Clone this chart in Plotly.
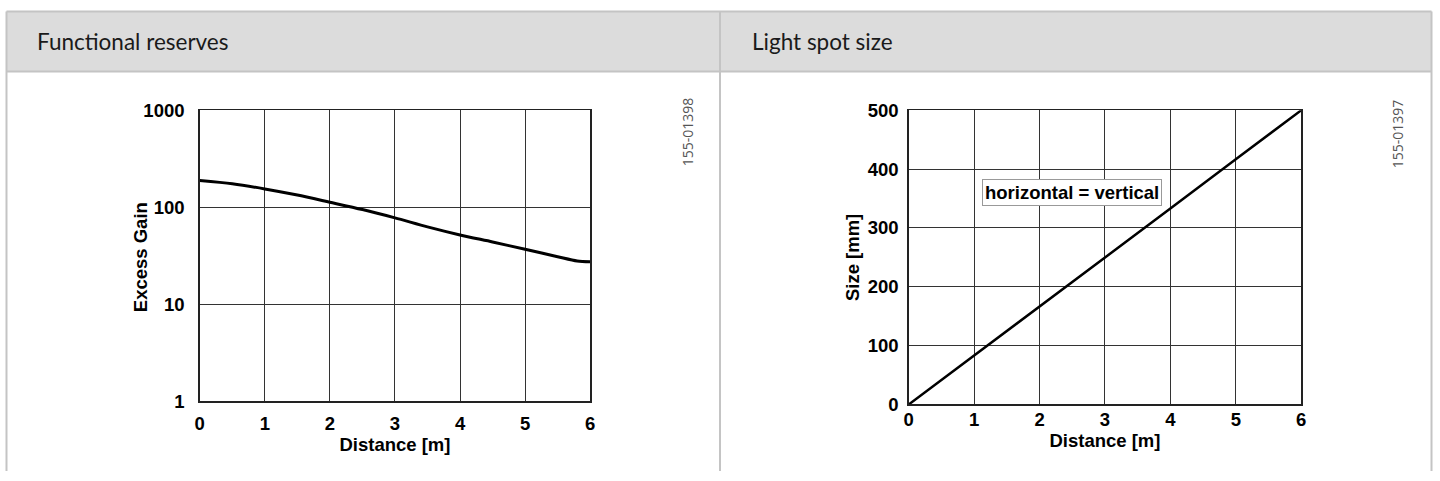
import plotly.graph_objects as go

# ---------------- data ----------------
gain_distance = [0, 0.5, 1, 1.5, 2, 2.5, 3, 3.5, 4, 4.5, 5, 5.5, 5.8, 6]
excess_gain = [189, 175, 155, 134, 113, 95, 78, 63, 52, 44, 37, 31, 28, 27.5]

spot_distance = [0, 1, 2, 3, 4, 5, 6]
spot_size = [0, 83, 167, 250, 333, 417, 500]

gain_ticks = [1, 10, 100, 1000]
gain_tick_text = ["1", "10", "100", "1000"]
x_ticks = [0, 1, 2, 3, 4, 5, 6]
size_ticks = [0, 100, 200, 300, 400, 500]

panel_titles = ["Functional reserves", "Light spot size"]
doc_ids = ["155-01398", "155-01397"]
x_title = "Distance [m]"
gain_title = "Excess Gain"
size_title = "Size [mm]"
note_text = "horizontal = vertical"

# ---------------- layout helpers ----------------
W, H = 1440, 481
# mapping between page pixels and the photographed picture
X0, SX = 4.0, 1432.0 / 1440.0
Y0, SY = 9.0, 463.0 / 481.0


def fx(p):
    return ((p - X0) / SX) / W


def fy(p):
    return 1 - ((p - Y0) / SY) / H


ARIAL = "Arial, Liberation Sans, sans-serif"
tick_font = dict(family=ARIAL, size=18.5, color="#000", weight="bold")
title_font = dict(family=ARIAL, size=18.5, color="#000", weight="bold")

fig = go.Figure()

fig.add_trace(go.Scatter(
    x=gain_distance, y=excess_gain, mode="lines",
    line=dict(color="#000", width=3, shape="spline", smoothing=0.8),
    xaxis="x", yaxis="y", showlegend=False, hoverinfo="skip",
))
fig.add_trace(go.Scatter(
    x=spot_distance, y=spot_size, mode="lines",
    line=dict(color="#000", width=2.5),
    xaxis="x2", yaxis="y2", showlegend=False, hoverinfo="skip",
))

axis_common = dict(
    showgrid=True, gridcolor="#333", gridwidth=1,
    showline=True, linecolor="#222", linewidth=1.5, mirror=True,
    zeroline=False, ticks="", tickfont=tick_font, fixedrange=True,
)

fig.update_layout(
    width=W, height=H,
    margin=dict(l=0, r=0, t=0, b=0),
    paper_bgcolor="#fff", plot_bgcolor="#fff",
    showlegend=False,
    xaxis=dict(axis_common, domain=[fx(199), fx(590)], range=[0, 6],
               tickvals=x_ticks, ticklabelstandoff=5,
               title=dict(text=x_title, font=title_font, standoff=0),
               anchor="y"),
    yaxis=dict(axis_common, domain=[fy(402), fy(109)], type="log",
               range=[0, 3], tickvals=gain_ticks, ticktext=gain_tick_text,
               ticklabelstandoff=10, anchor="x"),
    xaxis2=dict(axis_common, domain=[fx(909), fx(1302)], range=[0, 6],
                tickvals=x_ticks, ticklabelstandoff=-2,
                title=dict(text=x_title, font=title_font, standoff=1),
                anchor="y2"),
    yaxis2=dict(axis_common, domain=[fy(405), fy(109)], range=[0, 500],
                tickvals=size_ticks, ticklabelstandoff=5,
                title=dict(text=size_title, font=title_font, standoff=3),
                anchor="x2"),
)

# table frame
border = "#c4c4c4"
top, head_bottom = 9.5, 70
left, mid, right = 5.5, 720, 1432.5
shapes = [
    dict(type="rect", xref="paper", yref="paper", x0=fx(left), x1=fx(right),
         y0=fy(head_bottom), y1=fy(top), fillcolor="#dcdcdc",
         line=dict(width=0), layer="below"),
    dict(type="line", xref="paper", yref="paper", x0=fx(left), x1=fx(right),
         y0=fy(top), y1=fy(top), line=dict(color=border, width=2)),
    dict(type="line", xref="paper", yref="paper", x0=fx(left), x1=fx(right),
         y0=fy(head_bottom), y1=fy(head_bottom), line=dict(color=border, width=2)),
    dict(type="line", xref="paper", yref="paper", x0=fx(left), x1=fx(left),
         y0=fy(top), y1=0, line=dict(color=border, width=2)),
    dict(type="line", xref="paper", yref="paper", x0=fx(mid), x1=fx(mid),
         y0=fy(top), y1=0, line=dict(color=border, width=2)),
    dict(type="line", xref="paper", yref="paper", x0=fx(right), x1=fx(right),
         y0=fy(top), y1=0, line=dict(color=border, width=2)),
]
fig.update_layout(shapes=shapes)

header_font = dict(family="Lato, Open Sans, sans-serif", size=22.5, color="#1a1a1a")
id_font = dict(family="Open Sans, sans-serif", size=14, color="#555")
annotations = [
    dict(text=panel_titles[0], xref="paper", yref="paper", x=fx(34), y=fy(40),
         xanchor="left", yanchor="middle", showarrow=False, font=header_font),
    dict(text=panel_titles[1], xref="paper", yref="paper", x=fx(750), y=fy(40),
         xanchor="left", yanchor="middle", showarrow=False, font=header_font),
    # y-axis title of the left chart (sits closer than Plotly's title allows)
    dict(text=gain_title, xref="paper", yref="paper", x=fx(140), y=fy(257),
         xanchor="center", yanchor="middle", textangle=-90,
         showarrow=False, font=title_font),
    dict(text=doc_ids[0], xref="paper", yref="paper", x=fx(687), y=fy(131),
         xanchor="center", yanchor="middle",
         textangle=-90, showarrow=False, font=id_font),
    dict(text=doc_ids[1], xref="paper", yref="paper", x=fx(1398), y=fy(133),
         xanchor="center", yanchor="middle",
         textangle=-90, showarrow=False, font=id_font),
    dict(text=note_text, xref="x2", yref="y2", x=2.5, y=360, showarrow=False,
         xanchor="center", yanchor="middle",
         font=dict(family=ARIAL, size=18.5, color="#000", weight="bold"),
         bgcolor="#fff", bordercolor="#999", borderwidth=1, borderpad=2),
]
fig.update_layout(annotations=annotations)

fig.write_html(
    "out.html",
    config={"displayModeBar": False, "staticPlot": True},
    post_script="document.body.style.margin='0';document.body.style.overflow='hidden';",
)
